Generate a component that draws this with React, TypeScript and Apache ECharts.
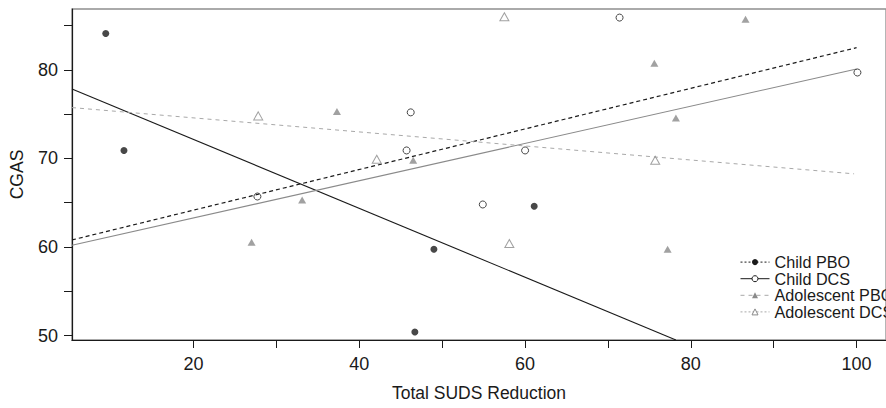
import React, { useEffect, useRef } from "react";
import * as echarts from "echarts";

// ---- data ----
const childPBO: number[][] = [[9.4, 84.1], [11.6, 70.9], [46.7, 50.4], [49.0, 59.75], [61.1, 64.6]];
const childDCS: number[][] = [[27.7, 65.7], [45.7, 70.9], [46.2, 75.2], [54.9, 64.8], [60.0, 70.9], [71.4, 85.9], [100.1, 79.7]];
const adolPBO: number[][] = [[27.0, 60.55], [33.1, 65.3], [37.3, 75.3], [46.5, 69.8], [75.6, 80.75], [77.2, 59.75], [78.2, 74.55], [86.6, 85.7]];
const adolDCS: number[][] = [[27.8, 74.8], [42.1, 69.9], [57.5, 86.0], [58.1, 60.4], [75.7, 69.8]];

// regression line end points
const childPBOFit: number[][] = [[5.33, 77.85], [78.2, 49.5]];
const childDCSFit: number[][] = [[5.33, 60.8], [100, 82.5]];
const adolPBOFit: number[][] = [[5.33, 60.2], [100, 80.1]];
const adolDCSFit: number[][] = [[5.33, 75.74], [99.7, 68.26]];

const legendNames = ["Child PBO", "Child DCS", "Adolescent PBO", "Adolescent DCS"];
const xTicks = [20, 30, 40, 50, 60, 70, 80, 90, 100];
const xLabels = [20, 40, 60, 80, 100];
const yTicks = [50, 55, 60, 65, 70, 75, 80, 85];
const yLabels = [50, 60, 70, 80];
const xTitle = "Total SUDS Reduction";
const yTitle = "CGAS";

const FONT = "'Liberation Sans', Arial, Helvetica, sans-serif";
const INK = "#1a1a1a";
const GRAY = "#8a8a8a";
const LIGHT = "#a8a8a8";

export default function App() {
  const ref = useRef<HTMLDivElement>(null);
  useEffect(() => {
    if (!ref.current) return;
    const chart = echarts.init(ref.current, undefined, { renderer: "svg" });

    const legendStyles = [
      { symbol: "circle", itemStyle: { color: INK, borderColor: INK, borderWidth: 0 }, lineStyle: { color: INK, width: 1, type: [2, 2] } },
      { symbol: "circle", itemStyle: { color: "#fff", borderColor: INK, borderWidth: 1 }, lineStyle: { color: INK, width: 1, type: "solid" } },
      { symbol: "triangle", itemStyle: { color: GRAY, borderColor: GRAY, borderWidth: 0 }, lineStyle: { color: LIGHT, width: 1, type: [4, 4] } },
      { symbol: "triangle", itemStyle: { color: "#fff", borderColor: GRAY, borderWidth: 1 }, lineStyle: { color: LIGHT, width: 1, type: [2, 2] } },
    ];

    const legendSeries = legendNames.map((n, i) => ({
      type: "line",
      name: n,
      data: [] as number[][],
      symbol: legendStyles[i].symbol,
      itemStyle: legendStyles[i].itemStyle,
      lineStyle: legendStyles[i].lineStyle,
      silent: true,
    }));

    const fit = (name: string, data: number[][], color: string, width: number, type: any) => ({
      type: "line",
      name,
      data,
      symbol: "none",
      showSymbol: false,
      silent: true,
      z: 1,
      lineStyle: { color, width, type },
    });

    const pts = (name: string, data: number[][], symbol: string, size: any, itemStyle: any) => ({
      type: "scatter",
      name,
      data,
      symbol,
      symbolSize: size,
      silent: true,
      z: 3,
      itemStyle,
    });

    chart.setOption({
      animation: false,
      backgroundColor: "#fff",
      textStyle: { fontFamily: FONT },
      grid: {
        left: 71,
        right: -7,
        top: 9,
        bottom: 68,
        show: true,
        borderColor: "#8f8f8f",
        borderWidth: 1.3,
        backgroundColor: "transparent",
      },
      legend: {
        orient: "vertical",
        left: 740,
        top: 254,
        padding: 0,
        itemGap: 0.4,
        itemWidth: 29,
        itemHeight: 7.5,
        selectedMode: false,
        textStyle: { fontSize: 16.2, color: INK, fontFamily: FONT, lineHeight: 16.2 },
        data: legendNames.map((n, i) => ({
          name: n,
          itemStyle: legendStyles[i].itemStyle,
          lineStyle: legendStyles[i].lineStyle,
        })),
      },
      xAxis: {
        type: "value",
        min: 5.33,
        max: 103.55,
        name: xTitle,
        nameLocation: "middle",
        nameGap: 44,
        nameTextStyle: { fontSize: 17.5, color: INK, fontFamily: FONT },
        axisLine: { show: true, onZero: false, lineStyle: { color: INK, width: 1.2 } },
        axisTick: { show: true, inside: false, length: 8, customValues: xTicks, lineStyle: { color: INK, width: 1 } },
        axisLabel: { show: true, margin: 15, fontSize: 18, color: INK, fontFamily: FONT, customValues: xLabels },
        splitLine: { show: false },
      },
      yAxis: {
        type: "value",
        min: 49.5,
        max: 86.87,
        name: yTitle,
        nameLocation: "middle",
        nameGap: 46,
        nameRotate: 90,
        nameTextStyle: { fontSize: 17.5, color: INK, fontFamily: FONT },
        axisLine: { show: true, onZero: false, lineStyle: { color: INK, width: 1.2 } },
        axisTick: { show: true, inside: false, length: 8, customValues: yTicks, lineStyle: { color: INK, width: 1 } },
        axisLabel: { show: true, margin: 14, fontSize: 18, color: INK, fontFamily: FONT, customValues: yLabels },
        splitLine: { show: false },
      },
      series: [
        ...legendSeries,
        fit("Child PBO fit", childPBOFit, INK, 1.1, "solid"),
        fit("Child DCS fit", childDCSFit, INK, 1.2, [4, 3]),
        fit("Adolescent PBO fit", adolPBOFit, GRAY, 1.1, "solid"),
        fit("Adolescent DCS fit", adolDCSFit, LIGHT, 1, [4, 4]),
        pts("Child PBO points", childPBO, "circle", 7, { color: INK }),
        pts("Child DCS points", childDCS, "circle", 7, { color: "rgba(255,255,255,0)", borderColor: INK, borderWidth: 1 }),
        pts("Adolescent PBO points", adolPBO, "triangle", [8, 7], { color: GRAY }),
        pts("Adolescent DCS points", adolDCS, "triangle", [9, 8], { color: "rgba(255,255,255,0)", borderColor: GRAY, borderWidth: 1 }),
      ],
    } as any);

    return () => chart.dispose();
  }, []);

  return (
    <div
      ref={ref}
      style={{ position: "fixed", left: 0, top: 0, width: 886, height: 408, background: "#fff" }}
    />
  );
}
